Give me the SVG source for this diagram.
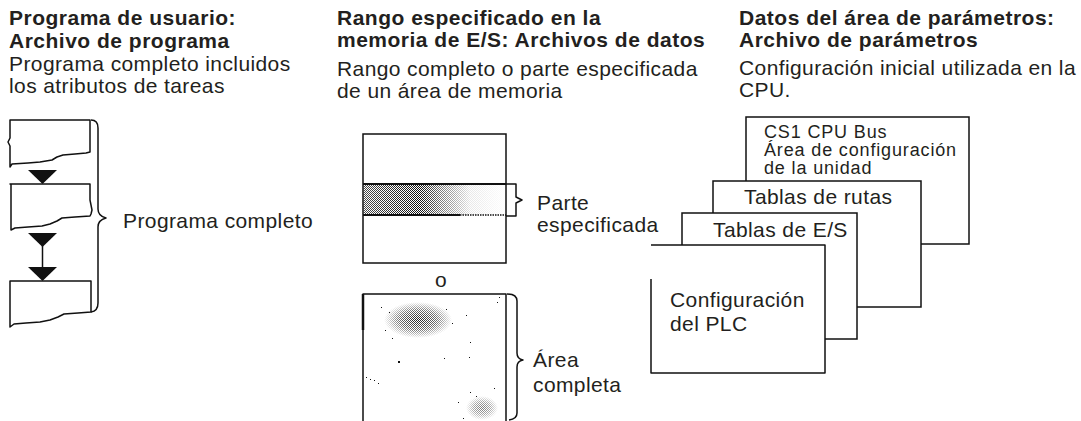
<svg xmlns="http://www.w3.org/2000/svg" width="1081" height="421" viewBox="0 0 1081 421">
<style>
  text { font-family: "Liberation Sans", Arial, Helvetica, sans-serif; fill: #231f20; }
  .h { font-size: 21px; font-weight: bold; letter-spacing: 0.5px; }
  .t { font-size: 21px; letter-spacing: 0.4px; }
  .s { font-size: 18px; letter-spacing: 0.85px; }
  .ln { fill: none; stroke: #111; stroke-width: 1.5; stroke-linejoin: round; }
  .box { fill: #fff; stroke: #111; stroke-width: 1.5; }
  .arr { fill: #111; stroke: none; }
</style>
<defs>
  <pattern id="checker" width="2" height="2" patternUnits="userSpaceOnUse">
    <rect x="0" y="0" width="1" height="1" fill="#111"/>
    <rect x="1" y="1" width="1" height="1" fill="#111"/>
  </pattern>
  <linearGradient id="fadeBand" x1="0" y1="0" x2="1" y2="0">
    <stop offset="0" stop-color="#fff" stop-opacity="0.75"/>
    <stop offset="0.4" stop-color="#fff" stop-opacity="1"/>
    <stop offset="0.55" stop-color="#fff" stop-opacity="0.55"/>
    <stop offset="0.75" stop-color="#fff" stop-opacity="0.1"/>
    <stop offset="1" stop-color="#fff" stop-opacity="0"/>
  </linearGradient>
  <mask id="bandMask" maskContentUnits="userSpaceOnUse">
    <rect x="363" y="184" width="143" height="31" fill="url(#fadeBand)"/>
  </mask>
  <radialGradient id="blob">
    <stop offset="0" stop-color="#fff" stop-opacity="0.95"/>
    <stop offset="0.55" stop-color="#fff" stop-opacity="0.6"/>
    <stop offset="1" stop-color="#fff" stop-opacity="0"/>
  </radialGradient>
  <mask id="blobMask" maskContentUnits="userSpaceOnUse">
    <ellipse cx="418" cy="320" rx="34" ry="18" fill="url(#blob)"/>
    <ellipse cx="482" cy="408" rx="16" ry="12" fill="url(#blob)" opacity="0.6"/>
  </mask>
</defs>

<g id="headers">
  <text class="h" x="9" y="25">Programa de usuario:</text>
  <text class="h" x="9" y="48">Archivo de programa</text>
  <text class="t" x="9" y="71">Programa completo incluidos</text>
  <text class="t" x="9" y="93">los atributos de tareas</text>

  <text class="h" x="337" y="25">Rango especificado en la</text>
  <text class="h" x="337" y="47">memoria de E/S: Archivos de datos</text>
  <text class="t" x="337" y="76">Rango completo o parte especificada</text>
  <text class="t" x="337" y="98">de un área de memoria</text>

  <text class="h" x="739" y="25">Datos del área de parámetros:</text>
  <text class="h" x="739" y="47">Archivo de parámetros</text>
  <text class="t" x="739" y="75">Configuración inicial utilizada en la</text>
  <text class="t" x="739" y="97">CPU.</text>
</g>

<g id="program">
  <g id="task1">
    <path class="ln" d="M10,167 L12,164 L28,163 L40,162 L52,160 L57,157 L63,155 L75,154 L86,153 L90,152 V120 H10 V138 L8,142 L10,146 Z"/>
  </g>
  <g id="task2">
    <path class="ln" d="M10,184 H90 V200 L91,205 L92,210 L91,214 L90,216 L75,217 L62,218 L57,221 L50,224 L42,226 L28,227 L15,228 L11,230 V184 Z"/>
  </g>
  <g id="task3">
    <path class="ln" d="M10,281 H91 V312 L78,313 L64,314 L58,317 L50,320 L40,322 L26,323 L14,324 L10,327 Z"/>
  </g>
  <g id="program-brace">
    <path class="ln" d="M91,120 Q98,120 98,128 V209 Q98,216 106,218 Q98,220 98,227 V303 Q98,311 91,312"/>
  </g>
  <text class="t" x="123" y="228">Programa completo</text>
</g>

<g id="connectors">
  <polygon class="arr" points="28,170 57,170 42.5,184"/>
  <polygon class="arr" points="28,233 57,233 42.5,247"/>
  <line class="ln" x1="42.5" y1="246" x2="42.5" y2="268"/>
  <polygon class="arr" points="28,267 57,267 42.5,281"/>
</g>

<g id="memory-partial">
  <rect x="363" y="134" width="143" height="129" fill="#fff" stroke="#111" stroke-width="1.5"/>
  <rect x="363.8" y="184" width="142" height="31" fill="url(#checker)" mask="url(#bandMask)"/>
  <line x1="363" y1="184" x2="506" y2="184" stroke="#111" stroke-width="2"/>
  <line x1="363" y1="215" x2="460" y2="215" stroke="#111" stroke-width="2"/>
  <line x1="460" y1="215" x2="506" y2="215" stroke="#111" stroke-width="1.5" stroke-dasharray="1.5 1"/>
  <path class="ln" d="M506,184 H516 V197 L522,200 L516,203 V216 H506"/>
  <text class="t" x="537" y="210">Parte</text>
  <text class="t" x="537" y="232">especificada</text>
</g>

<text class="t" x="435" y="287">o</text>

<g id="memory-full">
  <path class="ln" d="M363,421 V294 H506 V421"/>
  <line x1="363" y1="294" x2="363" y2="330" stroke="#111" stroke-width="2.5"/>
  <rect x="364" y="295" width="141" height="126" fill="url(#checker)" mask="url(#blobMask)"/>
  <g fill="#111">
    <rect x="381" y="307" width="1" height="1"/><rect x="389" y="312" width="1" height="1"/>
    <rect x="385" y="330" width="1" height="1"/><rect x="392" y="338" width="1" height="1"/>
    <rect x="446" y="309" width="1" height="1"/><rect x="452" y="323" width="1" height="1"/>
    <rect x="466" y="315" width="1" height="1"/><rect x="470" y="342" width="1" height="1"/>
    <rect x="398" y="361" width="2" height="2"/><rect x="444" y="358" width="1" height="1"/>
    <rect x="469" y="357" width="1" height="1"/><rect x="366" y="377" width="1" height="1"/>
    <rect x="370" y="379" width="1" height="1"/><rect x="374" y="380" width="1" height="1"/>
    <rect x="378" y="383" width="1" height="1"/><rect x="470" y="392" width="1" height="1"/>
    <rect x="476" y="396" width="1" height="1"/><rect x="494" y="388" width="1" height="1"/>
    <rect x="458" y="402" width="1" height="1"/><rect x="463" y="418" width="1" height="1"/>
    <rect x="499" y="297" width="1" height="1"/><rect x="497" y="302" width="1" height="1"/>
  </g>
  <path class="ln" d="M507,294 Q517,294 517,301 V353 Q517,359 523,360 Q517,361 517,367 V413 Q517,419 509,420"/>
  <text class="t" x="533" y="367">Área</text>
  <text class="t" x="533" y="392">completa</text>
</g>

<g id="cpu-bus">
  <rect class="box" x="746" y="117" width="223" height="127"/>
  <text class="s" x="764" y="138">CS1 CPU Bus</text>
  <text class="s" x="764" y="156">Área de configuración</text>
  <text class="s" x="764" y="174">de la unidad</text>
</g>
<g id="routing">
  <rect class="box" x="713" y="181" width="208" height="126"/>
  <text class="t" x="744" y="204">Tablas de rutas</text>
</g>
<g id="io-tables">
  <rect class="box" x="682" y="213" width="175" height="126"/>
  <text class="t" x="713" y="237">Tablas de E/S</text>
</g>
<g id="plc-setup">
  <rect x="651" y="245" width="174" height="128" fill="#fff" stroke="none"/>
  <path class="ln" d="M651,279 V373 H825 V245 H651"/>
  <text class="t" x="670" y="307">Configuración</text>
  <text class="t" x="670" y="331">del PLC</text>
</g>
</svg>
